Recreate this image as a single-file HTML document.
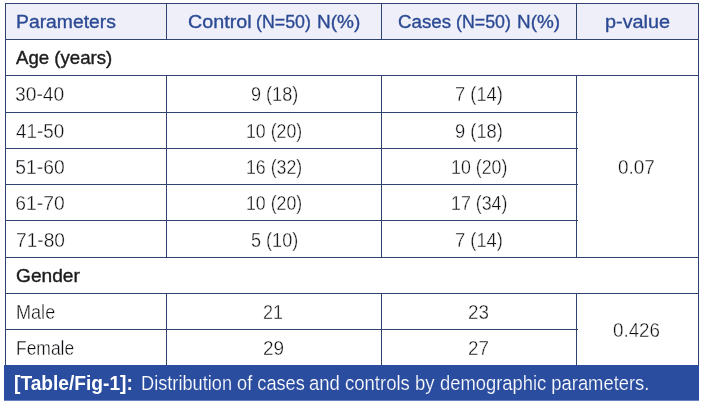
<!DOCTYPE html>
<html><head><meta charset="utf-8"><title>Table/Fig-1</title>
<style>
html,body{margin:0;padding:0;background:#fff;}
body{width:702px;height:405px;position:relative;overflow:hidden;font-family:"Liberation Sans",sans-serif;}
.hl,.vl{position:absolute;background:#30436f;}
.hl{height:1px;}
.vl{width:1px;}
.hdr{position:absolute;left:5px;top:3px;width:694px;height:36px;background:#eeeff8;}
.cap{position:absolute;left:4px;top:365px;width:695px;height:35px;background:#2a4da0;}
.cap2{position:absolute;left:4px;top:400px;width:695px;height:1px;background:#6a82bb;}
.t{position:absolute;white-space:nowrap;font-size:19.3px;line-height:24px;color:#101014;-webkit-text-stroke:0.35px #fff;transform-origin:0 0;}
.h{color:#2c4a94;-webkit-text-stroke:0.35px #2c4a94;font-size:18.7px;}
.b{color:#1c1c1e;-webkit-text-stroke:0.4px #1c1c1e;font-size:18.6px;}
.k,.kb{color:#fff;}
.k{-webkit-text-stroke:0.2px #2a4da0;}
.kb{-webkit-text-stroke:0;}
.kb{font-weight:bold;}
</style></head><body>
<div class="hdr"></div>
<div class="cap"></div><div class="cap2"></div>

<div class="hl" style="left:5px;top:3px;width:694px"></div>
<div class="hl" style="left:5px;top:39px;width:694px"></div>
<div class="hl" style="left:5px;top:75px;width:694px"></div>
<div class="hl" style="left:5px;top:112px;width:573px"></div>
<div class="hl" style="left:5px;top:148px;width:573px"></div>
<div class="hl" style="left:5px;top:184px;width:573px"></div>
<div class="hl" style="left:5px;top:220px;width:573px"></div>
<div class="hl" style="left:5px;top:257px;width:694px"></div>
<div class="hl" style="left:5px;top:293px;width:694px"></div>
<div class="hl" style="left:5px;top:329px;width:573px"></div>
<div class="vl" style="left:5px;top:3px;height:362px"></div>
<div class="vl" style="left:698px;top:3px;height:362px"></div>
<div class="vl" style="left:166px;top:3px;height:37px"></div>
<div class="vl" style="left:381px;top:3px;height:37px"></div>
<div class="vl" style="left:576px;top:3px;height:37px"></div>
<div class="vl" style="left:166px;top:75px;height:183px"></div>
<div class="vl" style="left:381px;top:75px;height:183px"></div>
<div class="vl" style="left:576px;top:75px;height:183px"></div>
<div class="vl" style="left:166px;top:293px;height:72px"></div>
<div class="vl" style="left:381px;top:293px;height:72px"></div>
<div class="vl" style="left:576px;top:293px;height:72px"></div>
<div class="t h" style="left:15.97px;top:10.42px;transform:scaleX(1.0337)">Parameters</div>
<div class="t h" style="left:187.9px;top:10.42px;transform:scaleX(1.0559)">Control</div>
<div class="t h" style="left:255.75px;top:10.42px;transform:scaleX(0.9518)">(N=50)</div>
<div class="t h" style="left:316.98px;top:10.42px;transform:scaleX(1.0171)">N(%)</div>
<div class="t h" style="left:397.7px;top:10.42px;transform:scaleX(1.0019)">Cases</div>
<div class="t h" style="left:456.25px;top:10.42px;transform:scaleX(0.9518)">(N=50)</div>
<div class="t h" style="left:517.19px;top:10.42px;transform:scaleX(1.0122)">N(%)</div>
<div class="t h" style="left:604.74px;top:10.42px;transform:scaleX(1.0617)">p-value</div>
<div class="t b" style="left:15.7px;top:46.26px;transform:scaleX(1.001)">Age (years)</div>
<div class="t " style="left:15.05px;top:83.11px;transform:scaleX(0.9969)">30-40</div>
<div class="t " style="left:16.05px;top:119.91px;transform:scaleX(0.9765)">41-50</div>
<div class="t " style="left:15.3px;top:155.91px;transform:scaleX(1.0)">51-60</div>
<div class="t " style="left:15.3px;top:192.21px;transform:scaleX(1.0)">61-70</div>
<div class="t " style="left:15.61px;top:228.91px;transform:scaleX(0.9938)">71-80</div>
<div class="t b" style="left:16.0px;top:264.36px;transform:scaleX(1.029)">Gender</div>
<div class="t " style="left:15.86px;top:300.91px;transform:scaleX(0.9375)">Male</div>
<div class="t " style="left:15.9px;top:337.31px;transform:scaleX(0.9048)">Female</div>
<div class="t " style="left:250.86px;top:83.11px;transform:scaleX(0.9375)">9 (18)</div>
<div class="t " style="left:245.58px;top:119.91px;transform:scaleX(0.9203)">10 (20)</div>
<div class="t " style="left:245.58px;top:155.91px;transform:scaleX(0.9203)">16 (32)</div>
<div class="t " style="left:245.58px;top:192.21px;transform:scaleX(0.9203)">10 (20)</div>
<div class="t " style="left:250.86px;top:228.91px;transform:scaleX(0.9375)">5 (10)</div>
<div class="t " style="left:262.67px;top:301.11px;transform:scaleX(0.93)">21</div>
<div class="t " style="left:262.62px;top:337.41px;transform:scaleX(0.98)">29</div>
<div class="t " style="left:455.25px;top:83.11px;transform:scaleX(0.95)">7 (14)</div>
<div class="t " style="left:455.25px;top:119.91px;transform:scaleX(0.95)">9 (18)</div>
<div class="t " style="left:451.08px;top:155.91px;transform:scaleX(0.9237)">10 (20)</div>
<div class="t " style="left:451.08px;top:192.21px;transform:scaleX(0.9237)">17 (34)</div>
<div class="t " style="left:455.25px;top:228.91px;transform:scaleX(0.95)">7 (14)</div>
<div class="t " style="left:467.52px;top:301.11px;transform:scaleX(0.975)">23</div>
<div class="t " style="left:467.52px;top:337.41px;transform:scaleX(0.975)">27</div>
<div class="t " style="left:618.32px;top:155.71px;transform:scaleX(0.9833)">0.07</div>
<div class="t " style="left:613.23px;top:319.41px;transform:scaleX(0.9745)">0.426</div>
<div class="t kb" style="left:14.01px;top:372.31px;transform:scaleX(0.994)">[Table/Fig-1]:</div>
<div class="t k" style="left:140.56px;top:372.31px;transform:scaleX(0.9436)">Distribution of cases</div>
<div class="t k" style="left:308.64px;top:372.31px;transform:scaleX(0.96)">and controls by</div>
<div class="t k" style="left:440.05px;top:372.31px;transform:scaleX(0.953)">demographic parameters.</div>
</body></html>
